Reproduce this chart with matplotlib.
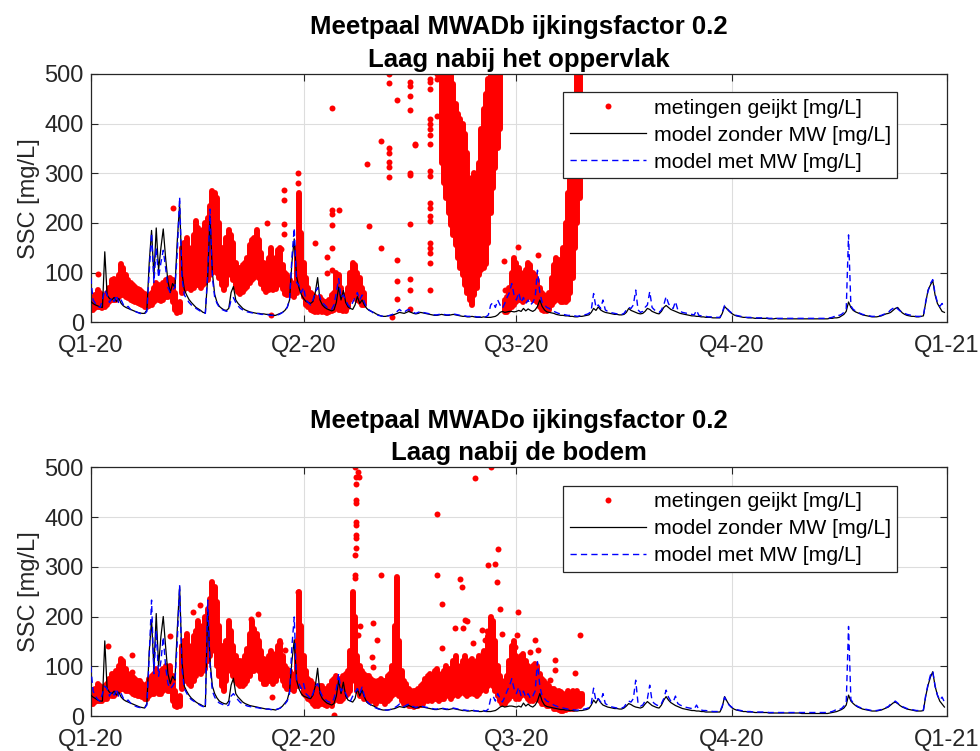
import numpy as np
import matplotlib
matplotlib.use("Agg")
import matplotlib.pyplot as plt
from matplotlib.lines import Line2D

plt.rcParams['font.family'] = ['Liberation Sans', 'DejaVu Sans']

NA = np.nan

# x axis: day of year 2020 (0 = 1 Jan 2020, 366 = 1 Jan 2021)
quarter_days = [0, 91, 182, 274, 366]
quarter_labels = ["Q1-20", "Q2-20", "Q3-20", "Q4-20", "Q1-21"]
y_ticks = [0, 100, 200, 300, 400, 500]

titles = ["Meetpaal MWADb ijkingsfactor 0.2\nLaag nabij het oppervlak",
          "Meetpaal MWADo ijkingsfactor 0.2\nLaag nabij de bodem"]
legend_labels = ["metingen geijkt [mg/L]", "model zonder MW [mg/L]", "model met MW [mg/L]"]

# ---------------- surface layer (MWADb) ----------------
# daily model values, model without mud disposal [mg/L]
zonder_top = [
    42, 38, 35, 33, 31, 30, 142, 55, 48, 45,
    50, 42, 48, 38, 33, 30, 28, 26, 24, 22,
    20, 19, 18, 18, 25, 120, 185, 92, 190, 105,
    150, 188, 130, 82, 60, 78, 70, 165, 238, 100,
    66, 55, 46, 40, 35, 30, 27, 24, 20, 19,
    90, 213, 100, 56, 40, 32, 28, 25, 24, 28,
    60, 72, 45, 38, 33, 28, 25, 23, 21, 20,
    19, 18, 18, 17, 17, 16, 16, 15, 14, 14,
    16, 18, 20, 24, 30, 45, 120, 168, 92, 70,
    56, 48, 42, 40, 38, 42, 60, 90, 45, 35,
    30, 27, 25, 23, 25, 40, 71, 45, 64, 40,
    31, 28, 26, 35, 52, 38, 45, 35, 28, 24,
    22, 20, 17, 15, 13, 12, 12, 13, 14, 15,
    16, 18, 20, 19, 18, 20, 22, 20, 18, 17,
    18, 20, 19, 18, 17, 16, 15, 14, 14, 15,
    16, 15, 14, 14, 15, 16, 15, 14, 13, 12,
    12, 11, 11, 12, 11, 10, 10, 10, 11, 10,
    10, 10, 11, 12, 15, 20, 22, 20, 21, 22,
    22, 21, 22, 24, 22, 28, 23, 27, 24, 22,
    25, 32, 45, 32, 25, 21, 20, 19, 18, 16,
    15, 14, 14, 13, 13, 12, 12, 11, 11, 12,
    12, 13, 14, 15, 20, 28, 24, 31, 25, 22,
    20, 19, 18, 17, 16, 16, 15, 15, 16, 20,
    28, 24, 22, 20, 18, 17, 18, 22, 28, 26,
    22, 20, 18, 17, 22, 30, 34, 30, 26, 24,
    22, 20, 18, 17, 16, 15, 14, 13, 13, 12,
    12, 11, 11, 10, 10, 10, 9, 9, 9, 9,
    18, 32, 27, 22, 18, 15, 13, 12, 11, 10,
    10, 9, 9, 9, 8, 8, 8, 8, 8, 8,
    7, 7, 7, 8, 7, 7, 7, 7, 7, 7,
    7, 7, 7, 7, 7, 7, 7, 7, 7, 7,
    7, 7, 7, 7, 7, 7, 8, 8, 9, 9,
    10, 13, 16, 22, 41, 30, 24, 21, 19, 17,
    15, 14, 13, 12, 11, 11, 11, 12, 13, 15,
    17, 18, 20, 24, 28, 30, 24, 19, 16, 14,
    13, 12, 12, 11, 11, 12, 13, 40, 65, 75,
    84, 55, 38, 30, 22, 20,
]

# daily model values, model with mud disposal [mg/L]
met_top = [
    90, 45, 38, 32, 30, 45, 65, 55, 40, 50,
    42, 55, 38, 45, 35, 30, 32, 26, 24, 22,
    20, 18, 17, 17, 22, 100, 180, 80, 150, 90,
    120, 145, 110, 70, 60, 65, 70, 140, 252, 90,
    55, 48, 40, 35, 32, 28, 25, 22, 20, 18,
    100, 228, 90, 50, 38, 30, 26, 24, 22, 25,
    45, 50, 40, 33, 28, 25, 23, 21, 20, 19,
    18, 18, 17, 16, 16, 15, 15, 14, 14, 14,
    15, 17, 20, 25, 30, 45, 130, 190, 80, 75,
    60, 70, 45, 40, 35, 45, 60, 70, 50, 40,
    35, 30, 28, 26, 35, 60, 88, 50, 55, 45,
    35, 30, 40, 50, 60, 45, 55, 40, 30, 25,
    22, 18, 16, 14, 13, 12, 12, 13, 14, 16,
    18, 22, 26, 22, 20, 24, 26, 22, 20, 18,
    20, 22, 20, 19, 18, 17, 16, 15, 15, 16,
    17, 16, 15, 15, 16, 17, 16, 15, 14, 13,
    13, 12, 12, 13, 12, 11, 11, 11, 12, 11,
    15, 35, 40, 30, 45, 35, 28, 38, 50, 60,
    78, 55, 45, 60, 40, 50, 38, 45, 35, 40,
    50, 105, 60, 40, 35, 30, 28, 25, 22, 20,
    18, 17, 16, 15, 14, 14, 13, 13, 12, 13,
    14, 15, 16, 18, 25, 58, 30, 35, 28, 45,
    25, 22, 20, 19, 18, 17, 16, 16, 18, 25,
    30, 28, 35, 65, 25, 20, 22, 30, 35, 62,
    30, 25, 22, 20, 25, 35, 52, 38, 30, 28,
    42, 25, 22, 20, 19, 18, 17, 16, 15, 24,
    14, 13, 12, 12, 11, 11, 10, 10, 10, 10,
    20, 34, 28, 23, 19, 16, 14, 13, 12, 11,
    10, 10, 10, 9, 9, 9, 9, 9, 9, 9,
    8, 8, 8, 8, 8, 8, 8, 8, 8, 8,
    8, 8, 8, 8, 8, 8, 8, 8, 8, 8,
    8, 8, 8, 8, 8, 8, 9, 10, 12, 15,
    14, 16, 20, 25, 176, 33, 26, 23, 20, 18,
    16, 15, 14, 13, 12, 12, 12, 13, 14, 16,
    18, 20, 25, 28, 32, 27, 23, 20, 18, 16,
    15, 14, 13, 12, 12, 12, 13, 42, 63, 78,
    86, 58, 40, 32, 38, 28,
]

# calibrated measurements: daily lower / upper extent of the dense record
meet_lo_top = (
    [25, 25, 28, 30, 30, 28, 30, 35, 40, 45,
     45, 45, 50, 55, 55, 50, 48, 45, 42, 40,
     38, 36, 35, 30, 30, 32, 35, 40, 45, 45,
     42, 45, 50, 50, 55, 40, 25, 18, 20, 60,
     65, 70, 70, 65, 70, 75, 75, 70, 75, 80,
     85, 95, 100, 110, 100, 90, 75, 65, 75, 100,
     95, 85, 70, 62, 58, 62, 68, 72, 80, 85,
     90, 95, 90, 78, 68, 62, 66, 70, 66, 68,
     75, 80, 68, 58, 55, 55, 55, 50, 60, 90,
     70, 50, 35, 30, 25, 22, 20, 20, 22, 20,
     20, 18, 20, 22, 25, 30, 25, 25, 22, 22,
     30, 45, 55, 50, 45, 40, 35, 35, NA, NA]
    + [NA] * 30 +
    [320, 280, 250, 220, 195, 175, 155, 130, 110, 95,
     75, 60, 45, 35, 55, 70, 95, 105, 110, 118,
     160, 220, 270, 310, 350, 390, NA, 20, 20, 25,
     30, 35, 40, 45, 45, 40, 45, 55, 50, 45,
     45, 40, 30, 25, 22, 22, 25, 35, 40, 45,
     45, 40, 40, 40, 45, 60, 90, 150, 200, 250,
     NA]
)
meet_hi_top = (
    [40, 45, 55, 65, 60, 55, 50, 60, 70, 85,
     88, 80, 95, 118, 110, 95, 85, 80, 75, 72,
     68, 65, 62, 58, 55, 55, 60, 70, 80, 75,
     70, 80, 85, 80, 90, 85, 60, 35, 40, 150,
     160, 170, 150, 140, 175, 205, 190, 160, 185, 200,
     210, 235, 265, 260, 250, 200, 150, 140, 170, 185,
     175, 160, 120, 110, 110, 115, 120, 130, 155, 165,
     170, 185, 165, 140, 120, 110, 130, 150, 120, 130,
     145, 150, 115, 100, 95, 85, 80, 75, 150, 260,
     180, 120, 90, 70, 60, 55, 50, 45, 50, 45,
     40, 40, 45, 55, 60, 100, 95, 70, 55, 50,
     70, 100, 120, 115, 100, 90, 70, 60, NA, NA]
    + [NA] * 30 +
    [520, 520, 520, 520, 520, 480, 440, 420, 410, 400,
     380, 340, 250, 290, 300, 280, 320, 390, 430, 460,
     490, 520, 520, 520, 520, 520, NA, 45, 50, 70,
     100, 130, 120, 110, 100, 95, 105, 120, 115, 100,
     95, 85, 70, 60, 55, 50, 60, 90, 115, 130,
     125, 110, 150, 200, 260, 330, 400, 450, 520, 520,
     NA]
)
# isolated measurement points
extra_day_top = [3.3, 35.0, 75.2, 77.0, 81.3, 82.8, 82.8, 82.8, 82.8, 88.8, 88.7,
                 95.9, 100.9, 100.9, 103.0, 103.0, 103.0, 103.0, 103.0, 103.0, 106.0,
                 118.0, 119.0, 124.0, 124.0, 127.6, 127.6, 127.7, 127.7, 127.7, 127.6, 127.6,
                 128.6, 130.8, 130.8, 130.8, 130.8,
                 136.3, 136.3, 136.3, 136.3, 136.3, 136.3, 136.3, 136.3, 136.3, 136.3,
                 138.8, 138.8,
                 145.1, 145.1, 145.1, 145.1, 145.1, 145.1, 145.1, 145.1, 145.1, 145.1,
                 145.1, 145.1, 145.1, 145.1, 145.1, 145.1, 145.1, 145.1, 145.1,
                 148.2, 148.2, 148.2, 176.6, 177.1, 182.8, 191.4]
extra_val_top = [97, 230, 199, 14, 147, 266, 247, 197, 178, 300, 280,
                 159, 131, 99, 432, 226, 218, 196, 149, 105, 227,
                 319, 193, 365, 149, 500, 481, 350, 341, 323, 312, 292,
                 11, 447, 125, 84, 46,
                 483, 475, 455, 427, 300, 296, 198, 88, 65, 26,
                 360, 357,
                 490, 483, 470, 410, 400, 390, 378, 360, 305, 295,
                 240, 230, 215, 205, 160, 150, 140, 120, 65,
                 500, 490, 416, 123, 65, 151, 135]

# ---------------- bottom layer (MWADo) ----------------
zonder_bot = [
    42, 38, 35, 32, 30, 30, 151, 55, 48, 45,
    50, 42, 48, 38, 33, 30, 28, 26, 24, 22,
    20, 18, 17, 16, 25, 130, 193, 95, 206, 100,
    160, 200, 140, 85, 65, 80, 72, 175, 260, 110,
    60, 50, 42, 36, 32, 28, 25, 23, 20, 19,
    215, 110, 60, 45, 36, 30, 27, 25, 24, 30,
    62, 76, 45, 38, 33, 28, 25, 23, 21, 20,
    19, 18, 17, 16, 15, 14, 14, 13, 13, 12,
    14, 16, 20, 26, 32, 50, 110, 153, 72, 55,
    45, 40, 38, 36, 35, 42, 60, 96, 45, 35,
    30, 26, 24, 22, 25, 40, 72, 45, 68, 40,
    32, 30, 28, 35, 55, 40, 52, 38, 28, 24,
    22, 20, 17, 15, 13, 12, 12, 12, 13, 14,
    15, 17, 19, 18, 17, 19, 21, 19, 17, 16,
    17, 19, 18, 17, 16, 15, 14, 13, 13, 14,
    15, 14, 13, 13, 14, 15, 14, 13, 12, 11,
    11, 10, 10, 11, 10, 10, 9, 9, 10, 9,
    9, 9, 10, 11, 14, 18, 20, 18, 19, 20,
    20, 19, 18, 20, 18, 26, 20, 24, 20, 18,
    22, 30, 45, 30, 22, 19, 18, 17, 16, 15,
    14, 13, 13, 12, 12, 11, 11, 10, 10, 11,
    11, 12, 13, 15, 22, 32, 26, 35, 27, 22,
    20, 18, 17, 16, 15, 15, 14, 14, 16, 20,
    25, 23, 20, 18, 17, 16, 18, 24, 29, 25,
    21, 19, 17, 16, 22, 32, 39, 32, 27, 24,
    21, 19, 17, 15, 14, 13, 12, 11, 11, 10,
    10, 9, 9, 8, 8, 8, 8, 8, 8, 8,
    18, 39, 30, 22, 17, 14, 12, 11, 10, 9,
    9, 8, 8, 8, 7, 7, 7, 7, 7, 7,
    6, 6, 6, 6, 6, 6, 6, 6, 6, 6,
    6, 6, 6, 6, 5, 5, 5, 5, 5, 5,
    5, 5, 5, 5, 5, 5, 6, 7, 8, 9,
    11, 13, 16, 22, 42, 30, 25, 21, 18, 16,
    14, 13, 12, 11, 10, 10, 10, 11, 12, 14,
    16, 18, 22, 26, 28, 25, 21, 18, 16, 14,
    13, 12, 11, 10, 10, 10, 11, 40, 62, 78,
    89, 60, 42, 30, 24, 18,
]

met_bot = [
    100, 50, 40, 33, 30, 45, 60, 55, 40, 50,
    42, 55, 38, 45, 35, 30, 32, 26, 22, 20,
    18, 17, 16, 16, 22, 120, 233, 85, 172, 80,
    110, 159, 100, 65, 55, 60, 68, 150, 263, 95,
    55, 46, 38, 33, 30, 27, 24, 21, 19, 17,
    233, 100, 50, 38, 30, 26, 24, 22, 20, 22,
    40, 45, 38, 32, 27, 24, 22, 20, 19, 18,
    17, 17, 16, 15, 15, 14, 14, 13, 13, 13,
    14, 16, 20, 24, 30, 45, 140, 199, 70, 65,
    55, 65, 45, 40, 35, 45, 60, 65, 50, 40,
    35, 30, 28, 26, 35, 55, 85, 50, 55, 45,
    35, 30, 40, 48, 55, 45, 58, 40, 30, 25,
    21, 18, 16, 14, 13, 12, 12, 12, 13, 15,
    17, 20, 24, 20, 19, 22, 24, 20, 19, 17,
    19, 21, 19, 18, 17, 16, 15, 14, 14, 15,
    16, 15, 14, 14, 15, 16, 15, 14, 13, 12,
    12, 11, 11, 12, 11, 10, 10, 10, 11, 10,
    14, 35, 40, 30, 45, 35, 28, 38, 50, 60,
    75, 55, 45, 58, 40, 50, 38, 45, 35, 40,
    50, 109, 60, 40, 35, 30, 28, 25, 22, 20,
    18, 17, 16, 15, 14, 13, 13, 12, 12, 12,
    13, 14, 15, 17, 25, 56, 30, 35, 28, 45,
    25, 22, 20, 18, 17, 16, 16, 16, 18, 25,
    30, 28, 35, 72, 25, 20, 22, 30, 35, 62,
    30, 25, 22, 20, 25, 35, 52, 38, 30, 28,
    40, 25, 22, 20, 18, 17, 16, 15, 14, 22,
    13, 12, 11, 11, 10, 10, 9, 9, 9, 9,
    20, 38, 28, 22, 18, 15, 13, 12, 11, 10,
    9, 9, 9, 8, 8, 8, 8, 8, 8, 8,
    7, 7, 7, 7, 7, 7, 7, 7, 7, 7,
    7, 7, 7, 7, 7, 7, 7, 7, 7, 7,
    7, 7, 7, 7, 7, 7, 8, 9, 11, 14,
    13, 15, 20, 25, 180, 33, 26, 22, 19, 17,
    15, 14, 13, 12, 11, 11, 11, 12, 13, 15,
    17, 19, 24, 27, 30, 26, 22, 19, 17, 15,
    14, 13, 12, 11, 11, 11, 12, 42, 64, 82,
    90, 60, 42, 32, 38, 28,
]

meet_lo_bot = [
    25, 25, 28, 30, 30, 30, 35, 35, 40, 40,
    40, 45, 50, 55, 55, 50, 50, 48, 45, 42,
    40, 40, 38, 35, 35, 40, 45, 45, 50, 45,
    45, 50, 55, 50, 50, 30, 20, 18, 20, 55,
    70, 70, 65, 60, 70, 80, 90, 85, 90, 95,
    110, 120, 140, 130, 100, 80, 60, 50, 70, 100,
    90, 80, 70, 65, 60, 60, 65, 70, 80, 90,
    90, 95, 90, 75, 65, 65, 70, 70, 65, 70,
    80, 85, 70, 60, 55, 55, 55, 50, 60, 80,
    60, 45, 40, 35, 30, 25, 20, 20, 25, 25,
    22, 20, 25, 20, 30, 35, 30, 30, 35, 40,
    45, 50, 80, 70, 50, 40, 40, 35, 35, 30,
    30, 30, 25, 30, 30, 30, 25, 30, 35, 40,
    45, 55, 40, 30, 25, 25, 20, 20, 18, 20,
    20, 22, 25, 30, 30, 35, 30, 35, 35, 30,
    35, 35, 40, 40, 35, 40, 45, 40, 45, 50,
    45, 40, 45, 50, 45, 40, 45, 50, 55, 50,
    60, 70, 60, 50, 40, 30, 25, 25, 30, 35,
    40, 40, 35, 35, 40, 45, 40, 35, 30, 30,
    35, 35, 30, 25, 25, 20, 20, 20, 15, 15,
    12, 10, 10, 12, 15, 15, 15, 18, 20, 20,
    25,
]
meet_hi_bot = [
    45, 45, 55, 65, 60, 55, 60, 65, 75, 85,
    85, 90, 100, 115, 110, 95, 85, 80, 78, 75,
    70, 70, 65, 60, 65, 75, 80, 85, 95, 85,
    90, 95, 100, 95, 100, 80, 50, 35, 40, 140,
    150, 165, 140, 130, 160, 170, 190, 175, 180, 200,
    215, 235, 270, 260, 230, 180, 140, 110, 150, 190,
    170, 140, 120, 110, 110, 110, 120, 135, 165, 190,
    175, 165, 150, 130, 115, 110, 120, 130, 115, 125,
    140, 150, 120, 100, 95, 90, 85, 80, 150, 250,
    180, 120, 90, 75, 70, 65, 60, 55, 60, 60,
    55, 50, 60, 70, 75, 80, 75, 70, 80, 85,
    90, 130, 250, 200, 120, 100, 90, 85, 80, 80,
    75, 70, 65, 70, 75, 70, 70, 80, 85, 100,
    180, 280, 150, 90, 70, 65, 55, 50, 50, 50,
    55, 60, 65, 75, 80, 85, 80, 90, 95, 80,
    85, 90, 100, 95, 85, 110, 120, 100, 95, 110,
    120, 100, 110, 115, 100, 110, 120, 110, 130, 120,
    160, 200, 190, 150, 100, 80, 70, 65, 80, 110,
    140, 150, 120, 115, 120, 125, 110, 100, 95, 100,
    105, 100, 85, 75, 70, 65, 60, 55, 55, 50,
    50, 48, 45, 45, 50, 45, 50, 45, 50, 45,
    45,
]
extra_day_bot = [7.4, 17.5, 17.6, 34.0, 43.9, 46.7, 68.4, 71.7, 77.4, 80.9, 83.0, 88.8,
                 103.8, 112.8, 113.5, 113.5, 113.4, 113.4, 113.3, 113.3, 113.2, 113.2,
                 113.3, 113.1, 113.0, 113.0, 114.3, 114.9, 114.3, 115.1, 115.1, 115.1,
                 120.1, 120.8, 120.8, 122.5, 123.9,
                 148.0, 148.0, 150.0, 150.0, 155.8, 158.0, 158.6, 159.3, 160.0, 160.7,
                 164.3, 163.6, 167.2, 167.6, 168.6, 169.3,
                 171.0, 170.0, 172.8, 174.3, 173.8, 175.0, 175.7,
                 182.8, 182.1, 181.4, 190.0, 191.4, 188.0, 198.5, 198.5, 196.4, 209.2, 207.1]
extra_val_bot = [140, 122, 89, 161, 210, 223, 196, 206, 38, 146, 133, 250,
                 2, 500, 481, 466, 434, 428, 390, 383, 363, 357,
                 337, 324, 283, 277, 490, 481, 163, 180, 93, 69,
                 119, 186, 99, 153, 283,
                 407, 283, 226, 136, 176, 276, 260, 176, 193, 191,
                 479, 146, 173, 126, 152, 170,
                 500, 303, 305, 335, 270, 216, 164,
                 210, 163, 139, 153, 132, 129, 113, 93, 72, 163, 86]

RED = (1.0, 0.0, 0.0)
BLUE = (0.0, 0.0, 1.0)
DOT_PT = 4.3      # dot diameter in points
DASH = (4.5, 3.0)
TXT = '#262626'


def draw_panel(ax, lo, hi, xd, xv, zonder, met, title):
    mday = np.arange(len(lo))
    band = ax.vlines(mday, lo, hi, colors=[RED], linewidth=DOT_PT, zorder=2)
    band.set_capstyle('round')
    ax.plot(xd, xv, ls='none', marker='o', ms=DOT_PT, mew=0, color=RED, zorder=2)
    ax.plot(np.arange(len(zonder)), zonder, color='black', lw=0.9, zorder=3)
    ax.plot(np.arange(len(met)), met, color=BLUE, lw=1.0, dashes=DASH, zorder=4)

    ax.set_xlim(quarter_days[0], quarter_days[-1])
    ax.set_ylim(0, 500)
    ax.set_xticks(quarter_days)
    ax.set_xticklabels(quarter_labels)
    ax.set_yticks(y_ticks)
    ax.grid(True, color='#dddddd', lw=0.8)
    ax.set_axisbelow(True)
    ax.tick_params(direction='in', top=True, right=True, length=5, width=0.8,
                   labelsize=17, colors=TXT)
    ax.tick_params(axis='x', pad=9)
    ax.tick_params(axis='y', pad=5)
    for lbl in ax.get_yticklabels():
        lbl.set_verticalalignment('center_baseline')
    for s in ax.spines.values():
        s.set_color(TXT)
        s.set_linewidth(0.9)
    ax.set_ylabel('SSC [mg/L]', fontsize=17, color=TXT, labelpad=3)
    ax.set_title(title, fontsize=18.5, fontweight='bold', pad=5, linespacing=1.45)

    handles = [Line2D([], [], ls='none', marker='o', ms=DOT_PT, mew=0, color=RED),
               Line2D([], [], color='black', lw=0.9),
               Line2D([], [], color=BLUE, lw=1.0, dashes=DASH)]
    leg = ax.legend(handles, legend_labels, loc='upper left',
                    bbox_to_anchor=(0.552, 0.926), borderaxespad=0,
                    fontsize=15.3, frameon=True, fancybox=False, framealpha=1,
                    edgecolor=TXT, handlelength=3.6, handletextpad=0.35,
                    labelspacing=0.38, borderpad=0.3)
    leg.get_frame().set_linewidth(0.9)
    leg.set_zorder(10)


fig = plt.figure(figsize=(9.8, 7.51), dpi=100)
ax_top = fig.add_axes([0.0926, 0.5708, 0.8735, 0.3307])
ax_bot = fig.add_axes([0.0926, 0.0466, 0.8735, 0.3312])

draw_panel(ax_top, meet_lo_top, meet_hi_top, extra_day_top, extra_val_top,
           zonder_top, met_top, titles[0])
draw_panel(ax_bot, meet_lo_bot, meet_hi_bot, extra_day_bot, extra_val_bot,
           zonder_bot, met_bot, titles[1])

fig.savefig('out.png', dpi=100)
